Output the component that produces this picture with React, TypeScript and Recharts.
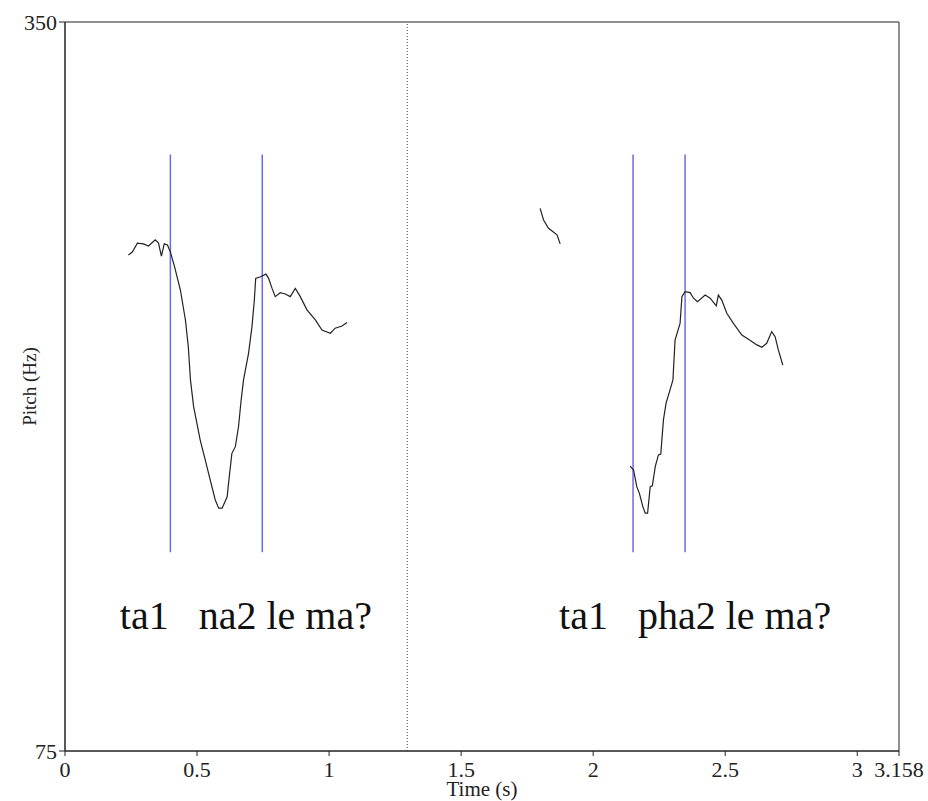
import React from 'react';
import { LineChart, Line, XAxis, YAxis, ReferenceLine, ReferenceArea, ReferenceDot } from 'recharts';

// time axis (s) and pitch range (Hz)
const tMax = 3.158;
const xTicks = [0, 0.5, 1, 1.5, 2, 2.5, 3, 3.158];
const yTicks = [75, 350];
const boundaryTime = 1.296;

// syllable boundary marks (blue), drawn from markLow to markHigh Hz
const segmentMarks = [0.399, 0.747, 2.151, 2.348];
const markLow = 150;
const markHigh = 300;

const sentences = [
  { t: 0.685, hz: 121, text: 'ta1   na2 le ma?' },
  { t: 2.386, hz: 121, text: 'ta1   pha2 le ma?' },
];

// pitch track pieces, [time, Hz]
const pitchA: [number, number][] = [
  [0.24, 262.1], [0.255, 263.2], [0.274, 266.6], [0.297, 266.3], [0.316, 265.5], [0.342, 267.8],
  [0.354, 266.6], [0.365, 261.7], [0.376, 266.3], [0.388, 265.9], [0.399, 263.2], [0.414, 258.0],
  [0.437, 248.9], [0.456, 237.6], [0.467, 227.4], [0.475, 215.0], [0.487, 204.9], [0.512, 192.3],
  [0.531, 184.8], [0.55, 177.2], [0.569, 169.7], [0.582, 166.6], [0.595, 166.6], [0.614, 170.9],
  [0.622, 178.5], [0.632, 187.3], [0.645, 189.8], [0.657, 197.3], [0.667, 207.4], [0.676, 215.0],
  [0.695, 225.0], [0.708, 235.1], [0.717, 245.1], [0.722, 253.3], [0.74, 253.9], [0.761, 254.9],
  [0.771, 253.3], [0.784, 249.5], [0.796, 246.4], [0.815, 247.9], [0.834, 247.4], [0.853, 246.4],
  [0.872, 249.5], [0.891, 246.4], [0.916, 241.4], [0.948, 237.6], [0.973, 233.8], [1.005, 232.6],
  [1.023, 234.5], [1.049, 235.3], [1.068, 236.6],
];

const pitchB: [number, number][] = [
  [1.799, 279.7], [1.812, 275.3], [1.831, 272.2], [1.863, 269.7], [1.875, 266.3],
];

const pitchC: [number, number][] = [
  [2.14, 182.5], [2.153, 181.0], [2.165, 174.7], [2.175, 172.2], [2.188, 167.2], [2.197, 164.7],
  [2.206, 164.7], [2.216, 174.7], [2.224, 175.0], [2.235, 182.3], [2.247, 186.7], [2.256, 187.0],
  [2.266, 199.9], [2.276, 206.2], [2.291, 211.2], [2.302, 215.0], [2.31, 230.0], [2.329, 236.3],
  [2.336, 246.4], [2.348, 248.3], [2.367, 247.9], [2.38, 245.8], [2.395, 244.5], [2.424, 247.0],
  [2.443, 245.8], [2.466, 242.9], [2.474, 247.0], [2.487, 245.1], [2.506, 240.1], [2.531, 236.3],
  [2.563, 231.9], [2.588, 230.3], [2.62, 228.2], [2.639, 227.3], [2.657, 228.8], [2.676, 233.2],
  [2.689, 231.3], [2.701, 226.3], [2.718, 220.6],
];

const FONT = "'Liberation Serif', 'Times New Roman', serif";
const INK = '#222';
const BLUE = '#6a6aee';

const toRows = (pts: [number, number][]) => pts.map(([t, hz]) => ({ t, hz }));

const XTick = (props: any) => (
  <text x={props.x} y={props.y} dy="0.68em" textAnchor="middle" fontSize={22} fontFamily={FONT} fill={INK}>
    {String(props.payload.value)}
  </text>
);

const YTick = (props: any) => (
  <text x={props.x} y={props.y} dy="0.35em" textAnchor="end" fontSize={22} fontFamily={FONT} fill={INK}>
    {String(props.payload.value)}
  </text>
);

const App: React.FC = () => {
  const tracks = [toRows(pitchA), toRows(pitchB), toRows(pitchC)];

  return (
    <div style={{ position: 'absolute', left: 0, top: 0, width: 928, height: 801, background: '#fff' }}>
      <LineChart width={928} height={801} margin={{ top: 22, right: 29, bottom: 0, left: 5 }}>
        <XAxis
          dataKey="t"
          type="number"
          domain={[0, tMax]}
          ticks={xTicks}
          allowDataOverflow
          height={50}
          tickSize={5}
          tickMargin={6}
          stroke={INK}
          tick={<XTick />}
          label={{
            content: ({ viewBox }: any) => (
              <text
                x={viewBox.x + viewBox.width / 2}
                y={viewBox.y + 45}
                textAnchor="middle"
                fontSize={21}
                fontFamily={FONT}
                fill={INK}
              >
                Time (s)
              </text>
            ),
          }}
        />
        <XAxis
          xAxisId="top"
          orientation="top"
          type="number"
          domain={[0, tMax]}
          ticks={[boundaryTime]}
          height={0}
          tick={false}
          tickSize={5}
          stroke={INK}
        />
        <YAxis
          type="number"
          domain={[75, 350]}
          ticks={yTicks}
          allowDataOverflow
          width={60}
          tickSize={6}
          tickMargin={2}
          stroke={INK}
          tick={<YTick />}
          label={{
            content: ({ viewBox }: any) => {
              const cx = 29;
              const cy = viewBox.y + viewBox.height / 2;
              return (
                <text
                  x={cx}
                  y={cy}
                  transform={`rotate(-90 ${cx} ${cy})`}
                  textAnchor="middle"
                  dominantBaseline="central"
                  fontSize={19}
                  fontFamily={FONT}
                  fill={INK}
                >
                  Pitch (Hz)
                </text>
              );
            },
          }}
        />
        <ReferenceArea x1={0} x2={tMax} y1={75} y2={350} fill="none" stroke={INK} strokeWidth={1} />
        <ReferenceLine x={boundaryTime} stroke="#444" strokeDasharray="1 2" strokeWidth={1} />
        {segmentMarks.map((t) => (
          <ReferenceLine
            key={t}
            segment={[{ x: t, y: markLow }, { x: t, y: markHigh }]}
            stroke={BLUE}
            strokeWidth={1.5}
          />
        ))}
        {tracks.map((rows, i) => (
          <Line
            key={i}
            data={rows}
            dataKey="hz"
            type="linear"
            stroke={INK}
            strokeWidth={1.2}
            dot={false}
            activeDot={false}
            isAnimationActive={false}
          />
        ))}
        {sentences.map((s) => (
          <ReferenceDot
            key={s.text}
            x={s.t}
            y={s.hz}
            r={0}
            shape={(p: any) => (
              <text
                x={p.cx}
                y={p.cy}
                textAnchor="middle"
                fontSize={40}
                fontFamily={FONT}
                fill="#111"
                style={{ whiteSpace: 'pre' }}
              >
                {s.text}
              </text>
            )}
          />
        ))}
      </LineChart>
    </div>
  );
};

export default App;
